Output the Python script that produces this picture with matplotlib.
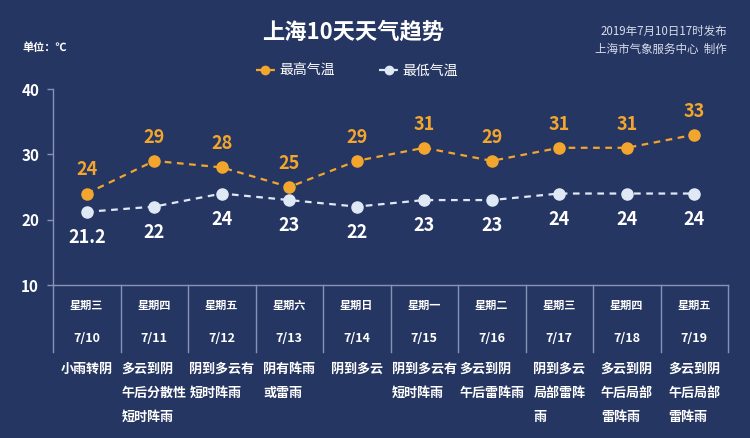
import matplotlib
matplotlib.use("Agg")
import matplotlib.pyplot as plt
import matplotlib.transforms as mtransforms

plt.rcParams['font.family'] = ['Noto Sans CJK SC', 'DejaVu Sans']

# data
weekdays = ["星期三", "星期四", "星期五", "星期六", "星期日",
            "星期一", "星期二", "星期三", "星期四", "星期五"]
dates = ["7/10", "7/11", "7/12", "7/13", "7/14",
         "7/15", "7/16", "7/17", "7/18", "7/19"]
high_temp = [24, 29, 28, 25, 29, 31, 29, 31, 31, 33]
low_temp = [21.2, 22, 24, 23, 22, 23, 23, 24, 24, 24]
high_labels = ["24", "29", "28", "25", "29", "31", "29", "31", "31", "33"]
low_labels = ["21.2", "22", "24", "23", "22", "23", "23", "24", "24", "24"]
weather = ["小雨转阴", "多云到阴\n午后分散性\n短时阵雨", "阴到多云有\n短时阵雨",
           "阴有阵雨\n或雷雨", "阴到多云", "阴到多云有\n短时阵雨",
           "多云到阴\n午后雷阵雨", "阴到多云\n局部雷阵\n雨",
           "多云到阴\n午后局部\n雷阵雨", "多云到阴\n午后局部\n雷阵雨"]
yticks = [10, 20, 30, 40]

bg = "#263662"
orange = "#f2a62d"
light = "#dfe8f5"
grid_c = "#8793b6"

fig = plt.figure(figsize=(7.5, 4.38), dpi=100, facecolor=bg)
W, H = 750, 438
ax = fig.add_axes([53 / W, 1 - 285 / H, (728 - 53) / W, (285 - 89) / H])
ax.set_facecolor(bg)

x = [i + 0.5 for i in range(len(dates))]
ax.plot(x, high_temp, color=orange, ls="--", lw=1.6, marker="o", ms=8,
        label="最高气温", dashes=(3, 2.5), clip_on=False, zorder=3)
ax.plot(x, low_temp, color=light, ls="--", lw=1.6, marker="o", ms=8,
        mfc=light, mec=light, label="最低气温", dashes=(3, 2.5),
        clip_on=False, zorder=3)

for xi, v, s in zip(x, high_temp, high_labels):
    ax.annotate(s, (xi, v), xytext=(0, 17), textcoords="offset points",
                ha="center", va="center", color=orange, fontsize=13,
                fontweight="bold")
for xi, v, s in zip(x, low_temp, low_labels):
    ax.annotate(s, (xi, v), xytext=(0, -18.5), textcoords="offset points",
                ha="center", va="center", color="white", fontsize=13,
                fontweight="bold")

ax.set_xlim(0, len(dates))
ax.set_ylim(10, 40)
ax.set_yticks(yticks)
ax.set_xticks([])
ax.tick_params(axis="y", colors=grid_c, length=4, width=1, labelsize=11,
               labelcolor="white", pad=6)
for lab in ax.get_yticklabels():
    lab.set_fontweight("bold")
for sp in ["top", "right"]:
    ax.spines[sp].set_visible(False)
for sp in ["left", "bottom"]:
    ax.spines[sp].set_color(grid_c)
    ax.spines[sp].set_linewidth(1)

# table below the axis
trans = mtransforms.blended_transform_factory(ax.transData, fig.transFigure)
for i in range(len(dates) + 1):
    ax.plot([i, i], [1 - 285 / H, 1 - 352 / H], color=grid_c, lw=1,
            transform=trans, clip_on=False)
for xi, d, wd, wt in zip(x, dates, weekdays, weather):
    ax.text(xi, 1 - 305 / H, wd, transform=trans, ha="center", va="center",
            color="white", fontsize=8, fontweight="bold")
    ax.text(xi, 1 - 338 / H, d, transform=trans, ha="center", va="center",
            color="white", fontsize=9, fontweight="bold")
    ax.text(xi, 1 - 362 / H, wt, transform=trans, ha="center", va="top",
            multialignment="left", color="white", fontsize=9.4,
            fontweight="bold", linespacing=1.9)

# titles
fig.text(353 / W, 1 - 32 / H, "上海10天天气趋势", ha="center", va="center",
         color="white", fontsize=16, fontweight="bold")
fig.text(22 / W, 1 - 47 / H, "单位：℃", ha="left", va="center",
         color="white", fontsize=8, fontweight="bold")
fig.text(727 / W, 1 - 31 / H, "2019年7月10日17时发布", ha="right", va="center",
         color="#d6dcea", fontsize=8.3)
fig.text(727 / W, 1 - 49 / H, "上海市气象服务中心  制作", ha="right", va="center",
         color="#d6dcea", fontsize=8.3)

leg = fig.legend(loc="center", bbox_to_anchor=(357 / W, 1 - 71 / H), ncol=2,
                 frameon=False, fontsize=10, handlelength=1.4,
                 columnspacing=3.2, handletextpad=0.3, markerscale=0.75)
for t in leg.get_texts():
    t.set_color("white")

fig.savefig("out.png", dpi=100, facecolor=bg)
